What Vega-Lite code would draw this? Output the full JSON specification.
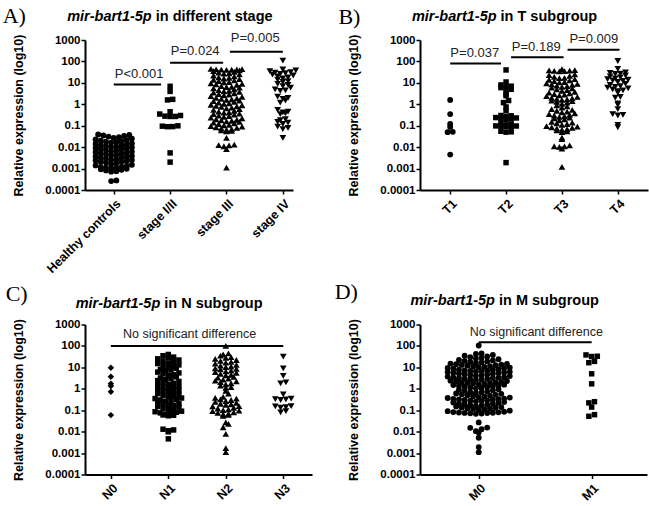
{
  "$schema": "https://vega.github.io/schema/vega-lite/v6.json",
  "autosize": {"type": "none"},
  "padding": {"left": 85, "top": 40, "right": 564, "bottom": 466},
  "background": "white",
  "columns": 2,
  "bounds": "flush",
  "spacing": {"row": 134.5, "column": 108},
  "config": {
    "view": {"stroke": null},
    "axis": {"grid": false, "domainColor": "black", "domainWidth": 2, "tickColor": "black", "tickWidth": 1.5, "tickSize": 4, "labelFont": "Liberation Sans", "labelFontWeight": "bold", "labelFontSize": 11.5, "labelColor": "black", "titleFont": "Liberation Sans", "titleFontWeight": "bold", "titleFontSize": 12.5, "titleColor": "black"},
    "axisX": {"labelFontSize": 12.5}
  },
  "datasets": {
    "stage": [
      {"group": "Healthy controls", "value": 0.039}, {"group": "Healthy controls", "value": 0.037}, {"group": "Healthy controls", "value": 0.035}, {"group": "Healthy controls", "value": 0.033}, {"group": "Healthy controls", "value": 0.031}, {"group": "Healthy controls", "value": 0.029}, {"group": "Healthy controls", "value": 0.027},
      {"group": "Healthy controls", "value": 0.025}, {"group": "Healthy controls", "value": 0.023}, {"group": "Healthy controls", "value": 0.021}, {"group": "Healthy controls", "value": 0.02}, {"group": "Healthy controls", "value": 0.019}, {"group": "Healthy controls", "value": 0.018}, {"group": "Healthy controls", "value": 0.017}, {"group": "Healthy controls", "value": 0.016},
      {"group": "Healthy controls", "value": 0.015}, {"group": "Healthy controls", "value": 0.014}, {"group": "Healthy controls", "value": 0.013}, {"group": "Healthy controls", "value": 0.0125}, {"group": "Healthy controls", "value": 0.012}, {"group": "Healthy controls", "value": 0.011}, {"group": "Healthy controls", "value": 0.0105}, {"group": "Healthy controls", "value": 0.0101},
      {"group": "Healthy controls", "value": 0.0098}, {"group": "Healthy controls", "value": 0.0092}, {"group": "Healthy controls", "value": 0.0088}, {"group": "Healthy controls", "value": 0.0082}, {"group": "Healthy controls", "value": 0.0078}, {"group": "Healthy controls", "value": 0.0073}, {"group": "Healthy controls", "value": 0.0068}, {"group": "Healthy controls", "value": 0.0064},
      {"group": "Healthy controls", "value": 0.0062}, {"group": "Healthy controls", "value": 0.0058}, {"group": "Healthy controls", "value": 0.0055}, {"group": "Healthy controls", "value": 0.0052}, {"group": "Healthy controls", "value": 0.0049}, {"group": "Healthy controls", "value": 0.0046}, {"group": "Healthy controls", "value": 0.0043}, {"group": "Healthy controls", "value": 0.0041},
      {"group": "Healthy controls", "value": 0.0039}, {"group": "Healthy controls", "value": 0.0037}, {"group": "Healthy controls", "value": 0.0035}, {"group": "Healthy controls", "value": 0.0033}, {"group": "Healthy controls", "value": 0.0031}, {"group": "Healthy controls", "value": 0.0029}, {"group": "Healthy controls", "value": 0.0027}, {"group": "Healthy controls", "value": 0.0026},
      {"group": "Healthy controls", "value": 0.0025}, {"group": "Healthy controls", "value": 0.0024}, {"group": "Healthy controls", "value": 0.0022}, {"group": "Healthy controls", "value": 0.0021}, {"group": "Healthy controls", "value": 0.002}, {"group": "Healthy controls", "value": 0.0019}, {"group": "Healthy controls", "value": 0.0018}, {"group": "Healthy controls", "value": 0.0016},
      {"group": "Healthy controls", "value": 0.0015}, {"group": "Healthy controls", "value": 0.0014}, {"group": "Healthy controls", "value": 0.0013}, {"group": "Healthy controls", "value": 0.0012}, {"group": "Healthy controls", "value": 0.00121}, {"group": "Healthy controls", "value": 0.0011}, {"group": "Healthy controls", "value": 0.00111}, {"group": "Healthy controls", "value": 0.00102},
      {"group": "Healthy controls", "value": 0.00098}, {"group": "Healthy controls", "value": 0.00092}, {"group": "Healthy controls", "value": 0.00088}, {"group": "Healthy controls", "value": 0.00082}, {"group": "Healthy controls", "value": 0.00076}, {"group": "Healthy controls", "value": 0.00072},
      {"group": "Healthy controls", "value": 0.00028}, {"group": "Healthy controls", "value": 0.00026},
      {"group": "stage I/II", "value": 6.9}, {"group": "stage I/II", "value": 4.0}, {"group": "stage I/II", "value": 1.7}, {"group": "stage I/II", "value": 1.6}, {"group": "stage I/II", "value": 0.45}, {"group": "stage I/II", "value": 0.35}, {"group": "stage I/II", "value": 0.3}, {"group": "stage I/II", "value": 0.28}, {"group": "stage I/II", "value": 0.27}, {"group": "stage I/II", "value": 0.271}, {"group": "stage I/II", "value": 0.099}, {"group": "stage I/II", "value": 0.095}, {"group": "stage I/II", "value": 0.09}, {"group": "stage I/II", "value": 0.091}, {"group": "stage I/II", "value": 0.0054}, {"group": "stage I/II", "value": 0.002},
      {"group": "stage III", "value": 45}, {"group": "stage III", "value": 43}, {"group": "stage III", "value": 41}, {"group": "stage III", "value": 41.5}, {"group": "stage III", "value": 42}, {"group": "stage III", "value": 44}, {"group": "stage III", "value": 40.5},
      {"group": "stage III", "value": 38}, {"group": "stage III", "value": 35}, {"group": "stage III", "value": 33}, {"group": "stage III", "value": 30}, {"group": "stage III", "value": 28}, {"group": "stage III", "value": 27},
      {"group": "stage III", "value": 25}, {"group": "stage III", "value": 22}, {"group": "stage III", "value": 20}, {"group": "stage III", "value": 18}, {"group": "stage III", "value": 17}, {"group": "stage III", "value": 16},
      {"group": "stage III", "value": 15}, {"group": "stage III", "value": 14}, {"group": "stage III", "value": 13}, {"group": "stage III", "value": 12}, {"group": "stage III", "value": 11}, {"group": "stage III", "value": 10.5},
      {"group": "stage III", "value": 9.5}, {"group": "stage III", "value": 9}, {"group": "stage III", "value": 8.5}, {"group": "stage III", "value": 8}, {"group": "stage III", "value": 7}, {"group": "stage III", "value": 6.5}, {"group": "stage III", "value": 6.4},
      {"group": "stage III", "value": 6}, {"group": "stage III", "value": 5.5}, {"group": "stage III", "value": 5}, {"group": "stage III", "value": 4.6}, {"group": "stage III", "value": 4.2}, {"group": "stage III", "value": 4.05},
      {"group": "stage III", "value": 3.8}, {"group": "stage III", "value": 3.5}, {"group": "stage III", "value": 3.2}, {"group": "stage III", "value": 3}, {"group": "stage III", "value": 2.8}, {"group": "stage III", "value": 2.6},
      {"group": "stage III", "value": 2.4}, {"group": "stage III", "value": 2.2}, {"group": "stage III", "value": 2}, {"group": "stage III", "value": 1.9}, {"group": "stage III", "value": 1.8}, {"group": "stage III", "value": 1.7}, {"group": "stage III", "value": 1.6},
      {"group": "stage III", "value": 1.5}, {"group": "stage III", "value": 1.4}, {"group": "stage III", "value": 1.3}, {"group": "stage III", "value": 1.2}, {"group": "stage III", "value": 1.1}, {"group": "stage III", "value": 1.05},
      {"group": "stage III", "value": 0.95}, {"group": "stage III", "value": 0.9}, {"group": "stage III", "value": 0.85}, {"group": "stage III", "value": 0.8}, {"group": "stage III", "value": 0.75}, {"group": "stage III", "value": 0.7}, {"group": "stage III", "value": 0.65},
      {"group": "stage III", "value": 0.6}, {"group": "stage III", "value": 0.55}, {"group": "stage III", "value": 0.5}, {"group": "stage III", "value": 0.45}, {"group": "stage III", "value": 0.42}, {"group": "stage III", "value": 0.41},
      {"group": "stage III", "value": 0.37}, {"group": "stage III", "value": 0.35}, {"group": "stage III", "value": 0.33}, {"group": "stage III", "value": 0.3}, {"group": "stage III", "value": 0.28}, {"group": "stage III", "value": 0.26},
      {"group": "stage III", "value": 0.24}, {"group": "stage III", "value": 0.22}, {"group": "stage III", "value": 0.2}, {"group": "stage III", "value": 0.19}, {"group": "stage III", "value": 0.18}, {"group": "stage III", "value": 0.17}, {"group": "stage III", "value": 0.16},
      {"group": "stage III", "value": 0.15}, {"group": "stage III", "value": 0.14}, {"group": "stage III", "value": 0.13}, {"group": "stage III", "value": 0.12}, {"group": "stage III", "value": 0.11}, {"group": "stage III", "value": 0.105},
      {"group": "stage III", "value": 0.095}, {"group": "stage III", "value": 0.09}, {"group": "stage III", "value": 0.085}, {"group": "stage III", "value": 0.08}, {"group": "stage III", "value": 0.075}, {"group": "stage III", "value": 0.07}, {"group": "stage III", "value": 0.065},
      {"group": "stage III", "value": 0.06}, {"group": "stage III", "value": 0.058}, {"group": "stage III", "value": 0.055},
      {"group": "stage III", "value": 0.027}, {"group": "stage III", "value": 0.013}, {"group": "stage III", "value": 0.012}, {"group": "stage III", "value": 0.011}, {"group": "stage III", "value": 0.0125}, {"group": "stage III", "value": 0.008}, {"group": "stage III", "value": 0.0011},
      {"group": "stage IV", "value": 110}, {"group": "stage IV", "value": 42}, {"group": "stage IV", "value": 38}, {"group": "stage IV", "value": 35}, {"group": "stage IV", "value": 32}, {"group": "stage IV", "value": 30}, {"group": "stage IV", "value": 28}, {"group": "stage IV", "value": 26}, {"group": "stage IV", "value": 24}, {"group": "stage IV", "value": 22}, {"group": "stage IV", "value": 20}, {"group": "stage IV", "value": 18}, {"group": "stage IV", "value": 16}, {"group": "stage IV", "value": 14}, {"group": "stage IV", "value": 12}, {"group": "stage IV", "value": 11}, {"group": "stage IV", "value": 9}, {"group": "stage IV", "value": 8}, {"group": "stage IV", "value": 7}, {"group": "stage IV", "value": 6}, {"group": "stage IV", "value": 5}, {"group": "stage IV", "value": 4.5}, {"group": "stage IV", "value": 4.2}, {"group": "stage IV", "value": 2.3}, {"group": "stage IV", "value": 2}, {"group": "stage IV", "value": 1.8}, {"group": "stage IV", "value": 1.5}, {"group": "stage IV", "value": 1.2}, {"group": "stage IV", "value": 0.55}, {"group": "stage IV", "value": 0.45}, {"group": "stage IV", "value": 0.42}, {"group": "stage IV", "value": 0.38}, {"group": "stage IV", "value": 0.35}, {"group": "stage IV", "value": 0.2}, {"group": "stage IV", "value": 0.18}, {"group": "stage IV", "value": 0.15}, {"group": "stage IV", "value": 0.14}, {"group": "stage IV", "value": 0.12}, {"group": "stage IV", "value": 0.09}, {"group": "stage IV", "value": 0.08}, {"group": "stage IV", "value": 0.07}, {"group": "stage IV", "value": 0.027}
    ],
    "tstage": [
      {"group": "T1", "value": 1.6}, {"group": "T1", "value": 0.35}, {"group": "T1", "value": 0.12}, {"group": "T1", "value": 0.088}, {"group": "T1", "value": 0.052}, {"group": "T1", "value": 0.05}, {"group": "T1", "value": 0.0045},
      {"group": "T2", "value": 40}, {"group": "T2", "value": 11}, {"group": "T2", "value": 8}, {"group": "T2", "value": 7}, {"group": "T2", "value": 6.5}, {"group": "T2", "value": 6}, {"group": "T2", "value": 5}, {"group": "T2", "value": 4.5}, {"group": "T2", "value": 3}, {"group": "T2", "value": 2.5}, {"group": "T2", "value": 1.5}, {"group": "T2", "value": 1.2}, {"group": "T2", "value": 0.75}, {"group": "T2", "value": 0.5}, {"group": "T2", "value": 0.3}, {"group": "T2", "value": 0.29}, {"group": "T2", "value": 0.27}, {"group": "T2", "value": 0.24}, {"group": "T2", "value": 0.23}, {"group": "T2", "value": 0.22}, {"group": "T2", "value": 0.21}, {"group": "T2", "value": 0.2}, {"group": "T2", "value": 0.13}, {"group": "T2", "value": 0.12}, {"group": "T2", "value": 0.11}, {"group": "T2", "value": 0.098}, {"group": "T2", "value": 0.097}, {"group": "T2", "value": 0.095}, {"group": "T2", "value": 0.092}, {"group": "T2", "value": 0.09}, {"group": "T2", "value": 0.055}, {"group": "T2", "value": 0.052}, {"group": "T2", "value": 0.05}, {"group": "T2", "value": 0.0019},
      {"group": "T3", "value": 44}, {"group": "T3", "value": 39}, {"group": "T3", "value": 38}, {"group": "T3", "value": 37}, {"group": "T3", "value": 36}, {"group": "T3", "value": 35}, {"group": "T3", "value": 34}, {"group": "T3", "value": 25}, {"group": "T3", "value": 23}, {"group": "T3", "value": 21}, {"group": "T3", "value": 19}, {"group": "T3", "value": 17}, {"group": "T3", "value": 16.5}, {"group": "T3", "value": 15}, {"group": "T3", "value": 14}, {"group": "T3", "value": 13}, {"group": "T3", "value": 12}, {"group": "T3", "value": 11}, {"group": "T3", "value": 10.5}, {"group": "T3", "value": 9.5}, {"group": "T3", "value": 9}, {"group": "T3", "value": 8.5}, {"group": "T3", "value": 8}, {"group": "T3", "value": 7.5}, {"group": "T3", "value": 7}, {"group": "T3", "value": 6.5}, {"group": "T3", "value": 6}, {"group": "T3", "value": 5.5}, {"group": "T3", "value": 5}, {"group": "T3", "value": 4.6}, {"group": "T3", "value": 4.2}, {"group": "T3", "value": 3.8}, {"group": "T3", "value": 3.5}, {"group": "T3", "value": 3.2}, {"group": "T3", "value": 3}, {"group": "T3", "value": 2.8}, {"group": "T3", "value": 2.6}, {"group": "T3", "value": 2.4}, {"group": "T3", "value": 2.2}, {"group": "T3", "value": 2}, {"group": "T3", "value": 1.9}, {"group": "T3", "value": 1.8}, {"group": "T3", "value": 1.7}, {"group": "T3", "value": 1.6}, {"group": "T3", "value": 1.5}, {"group": "T3", "value": 1.4}, {"group": "T3", "value": 1.3}, {"group": "T3", "value": 1.2}, {"group": "T3", "value": 1.05}, {"group": "T3", "value": 0.9}, {"group": "T3", "value": 0.8}, {"group": "T3", "value": 0.7}, {"group": "T3", "value": 0.6}, {"group": "T3", "value": 0.55}, {"group": "T3", "value": 0.5}, {"group": "T3", "value": 0.45}, {"group": "T3", "value": 0.42}, {"group": "T3", "value": 0.38}, {"group": "T3", "value": 0.35}, {"group": "T3", "value": 0.32}, {"group": "T3", "value": 0.3}, {"group": "T3", "value": 0.28}, {"group": "T3", "value": 0.26}, {"group": "T3", "value": 0.24}, {"group": "T3", "value": 0.22}, {"group": "T3", "value": 0.2}, {"group": "T3", "value": 0.18}, {"group": "T3", "value": 0.15}, {"group": "T3", "value": 0.14}, {"group": "T3", "value": 0.13}, {"group": "T3", "value": 0.12}, {"group": "T3", "value": 0.11}, {"group": "T3", "value": 0.095}, {"group": "T3", "value": 0.09}, {"group": "T3", "value": 0.085}, {"group": "T3", "value": 0.08}, {"group": "T3", "value": 0.075}, {"group": "T3", "value": 0.07}, {"group": "T3", "value": 0.065}, {"group": "T3", "value": 0.06}, {"group": "T3", "value": 0.055}, {"group": "T3", "value": 0.05}, {"group": "T3", "value": 0.028}, {"group": "T3", "value": 0.024}, {"group": "T3", "value": 0.012}, {"group": "T3", "value": 0.011}, {"group": "T3", "value": 0.0108}, {"group": "T3", "value": 0.0102}, {"group": "T3", "value": 0.0085}, {"group": "T3", "value": 0.0012},
      {"group": "T4", "value": 105}, {"group": "T4", "value": 45}, {"group": "T4", "value": 31}, {"group": "T4", "value": 29}, {"group": "T4", "value": 27}, {"group": "T4", "value": 26}, {"group": "T4", "value": 22}, {"group": "T4", "value": 20}, {"group": "T4", "value": 18}, {"group": "T4", "value": 16}, {"group": "T4", "value": 15}, {"group": "T4", "value": 14}, {"group": "T4", "value": 13}, {"group": "T4", "value": 12.5}, {"group": "T4", "value": 11}, {"group": "T4", "value": 9}, {"group": "T4", "value": 8}, {"group": "T4", "value": 7}, {"group": "T4", "value": 6.5}, {"group": "T4", "value": 6}, {"group": "T4", "value": 5.5}, {"group": "T4", "value": 5}, {"group": "T4", "value": 4.5}, {"group": "T4", "value": 4.1}, {"group": "T4", "value": 3.5}, {"group": "T4", "value": 2.2}, {"group": "T4", "value": 2.05}, {"group": "T4", "value": 1.1}, {"group": "T4", "value": 0.95}, {"group": "T4", "value": 0.6}, {"group": "T4", "value": 0.35}, {"group": "T4", "value": 0.32}, {"group": "T4", "value": 0.3}, {"group": "T4", "value": 0.11}, {"group": "T4", "value": 0.085}
    ],
    "nstage": [
      {"group": "N0", "value": 9.6}, {"group": "N0", "value": 3.6}, {"group": "N0", "value": 1.7}, {"group": "N0", "value": 1.35}, {"group": "N0", "value": 0.72}, {"group": "N0", "value": 0.059},
      {"group": "N1", "value": 40}, {"group": "N1", "value": 35}, {"group": "N1", "value": 30}, {"group": "N1", "value": 28}, {"group": "N1", "value": 25}, {"group": "N1", "value": 22}, {"group": "N1", "value": 20}, {"group": "N1", "value": 18}, {"group": "N1", "value": 16}, {"group": "N1", "value": 15}, {"group": "N1", "value": 13}, {"group": "N1", "value": 12}, {"group": "N1", "value": 11}, {"group": "N1", "value": 10.2}, {"group": "N1", "value": 9}, {"group": "N1", "value": 8}, {"group": "N1", "value": 7.5}, {"group": "N1", "value": 7}, {"group": "N1", "value": 6}, {"group": "N1", "value": 5.5}, {"group": "N1", "value": 5}, {"group": "N1", "value": 4.5}, {"group": "N1", "value": 4.1}, {"group": "N1", "value": 3.6}, {"group": "N1", "value": 3.2}, {"group": "N1", "value": 3}, {"group": "N1", "value": 2.7}, {"group": "N1", "value": 2.4}, {"group": "N1", "value": 2.2}, {"group": "N1", "value": 2}, {"group": "N1", "value": 1.8}, {"group": "N1", "value": 1.6}, {"group": "N1", "value": 1.5}, {"group": "N1", "value": 1.3}, {"group": "N1", "value": 1.2}, {"group": "N1", "value": 1.1}, {"group": "N1", "value": 1.02}, {"group": "N1", "value": 0.9}, {"group": "N1", "value": 0.85}, {"group": "N1", "value": 0.8}, {"group": "N1", "value": 0.7}, {"group": "N1", "value": 0.65}, {"group": "N1", "value": 0.6}, {"group": "N1", "value": 0.55}, {"group": "N1", "value": 0.5}, {"group": "N1", "value": 0.45}, {"group": "N1", "value": 0.41}, {"group": "N1", "value": 0.37}, {"group": "N1", "value": 0.35}, {"group": "N1", "value": 0.32}, {"group": "N1", "value": 0.3}, {"group": "N1", "value": 0.28}, {"group": "N1", "value": 0.26}, {"group": "N1", "value": 0.23}, {"group": "N1", "value": 0.2}, {"group": "N1", "value": 0.19}, {"group": "N1", "value": 0.17}, {"group": "N1", "value": 0.165}, {"group": "N1", "value": 0.15}, {"group": "N1", "value": 0.14}, {"group": "N1", "value": 0.12}, {"group": "N1", "value": 0.11}, {"group": "N1", "value": 0.102}, {"group": "N1", "value": 0.09}, {"group": "N1", "value": 0.085}, {"group": "N1", "value": 0.08}, {"group": "N1", "value": 0.075}, {"group": "N1", "value": 0.07}, {"group": "N1", "value": 0.065}, {"group": "N1", "value": 0.06}, {"group": "N1", "value": 0.058}, {"group": "N1", "value": 0.055}, {"group": "N1", "value": 0.013}, {"group": "N1", "value": 0.012}, {"group": "N1", "value": 0.011}, {"group": "N1", "value": 0.0098}, {"group": "N1", "value": 0.0046},
      {"group": "N2", "value": 100}, {"group": "N2", "value": 45}, {"group": "N2", "value": 40}, {"group": "N2", "value": 35}, {"group": "N2", "value": 30}, {"group": "N2", "value": 28}, {"group": "N2", "value": 25}, {"group": "N2", "value": 22}, {"group": "N2", "value": 20}, {"group": "N2", "value": 18}, {"group": "N2", "value": 16.5}, {"group": "N2", "value": 15}, {"group": "N2", "value": 13}, {"group": "N2", "value": 12}, {"group": "N2", "value": 11}, {"group": "N2", "value": 10.3}, {"group": "N2", "value": 9}, {"group": "N2", "value": 8.5}, {"group": "N2", "value": 8}, {"group": "N2", "value": 7}, {"group": "N2", "value": 6.5}, {"group": "N2", "value": 6}, {"group": "N2", "value": 5.5}, {"group": "N2", "value": 5}, {"group": "N2", "value": 4.5}, {"group": "N2", "value": 4.2}, {"group": "N2", "value": 3.6}, {"group": "N2", "value": 3.3}, {"group": "N2", "value": 3}, {"group": "N2", "value": 2.7}, {"group": "N2", "value": 2.4}, {"group": "N2", "value": 2.2}, {"group": "N2", "value": 2.05}, {"group": "N2", "value": 1.8}, {"group": "N2", "value": 1.6}, {"group": "N2", "value": 1.4}, {"group": "N2", "value": 1.2}, {"group": "N2", "value": 1.1}, {"group": "N2", "value": 0.8}, {"group": "N2", "value": 0.6}, {"group": "N2", "value": 0.42}, {"group": "N2", "value": 0.38}, {"group": "N2", "value": 0.35}, {"group": "N2", "value": 0.32}, {"group": "N2", "value": 0.3}, {"group": "N2", "value": 0.27}, {"group": "N2", "value": 0.245}, {"group": "N2", "value": 0.22}, {"group": "N2", "value": 0.2}, {"group": "N2", "value": 0.19}, {"group": "N2", "value": 0.18}, {"group": "N2", "value": 0.155}, {"group": "N2", "value": 0.15}, {"group": "N2", "value": 0.13}, {"group": "N2", "value": 0.12}, {"group": "N2", "value": 0.11}, {"group": "N2", "value": 0.102}, {"group": "N2", "value": 0.095}, {"group": "N2", "value": 0.09}, {"group": "N2", "value": 0.08}, {"group": "N2", "value": 0.075}, {"group": "N2", "value": 0.07}, {"group": "N2", "value": 0.065}, {"group": "N2", "value": 0.06}, {"group": "N2", "value": 0.055}, {"group": "N2", "value": 0.027}, {"group": "N2", "value": 0.023}, {"group": "N2", "value": 0.016}, {"group": "N2", "value": 0.0078}, {"group": "N2", "value": 0.0017}, {"group": "N2", "value": 0.0011},
      {"group": "N3", "value": 32}, {"group": "N3", "value": 9}, {"group": "N3", "value": 4}, {"group": "N3", "value": 2}, {"group": "N3", "value": 1.8}, {"group": "N3", "value": 0.55}, {"group": "N3", "value": 0.35}, {"group": "N3", "value": 0.33}, {"group": "N3", "value": 0.32}, {"group": "N3", "value": 0.3}, {"group": "N3", "value": 0.155}, {"group": "N3", "value": 0.15}, {"group": "N3", "value": 0.14}, {"group": "N3", "value": 0.13}, {"group": "N3", "value": 0.09}, {"group": "N3", "value": 0.08}
    ],
    "mstage": [
      {"group": "M0", "value": 105}, {"group": "M0", "value": 45}, {"group": "M0", "value": 42},
      {"group": "M0", "value": 38}, {"group": "M0", "value": 35}, {"group": "M0", "value": 32}, {"group": "M0", "value": 30}, {"group": "M0", "value": 28}, {"group": "M0", "value": 26},
      {"group": "M0", "value": 24}, {"group": "M0", "value": 22}, {"group": "M0", "value": 21}, {"group": "M0", "value": 20}, {"group": "M0", "value": 19}, {"group": "M0", "value": 18}, {"group": "M0", "value": 17}, {"group": "M0", "value": 16},
      {"group": "M0", "value": 15}, {"group": "M0", "value": 14.5}, {"group": "M0", "value": 14}, {"group": "M0", "value": 13.5}, {"group": "M0", "value": 13}, {"group": "M0", "value": 12.5}, {"group": "M0", "value": 12}, {"group": "M0", "value": 11.5}, {"group": "M0", "value": 11}, {"group": "M0", "value": 10.5}, {"group": "M0", "value": 10.2},
      {"group": "M0", "value": 9.8}, {"group": "M0", "value": 9.4}, {"group": "M0", "value": 9}, {"group": "M0", "value": 8.6}, {"group": "M0", "value": 8.2}, {"group": "M0", "value": 7.8}, {"group": "M0", "value": 7.5}, {"group": "M0", "value": 7.2}, {"group": "M0", "value": 7}, {"group": "M0", "value": 6.8}, {"group": "M0", "value": 6.6}, {"group": "M0", "value": 6.4},
      {"group": "M0", "value": 6.2}, {"group": "M0", "value": 6}, {"group": "M0", "value": 5.8}, {"group": "M0", "value": 5.6}, {"group": "M0", "value": 5.4}, {"group": "M0", "value": 5.2}, {"group": "M0", "value": 5}, {"group": "M0", "value": 4.8}, {"group": "M0", "value": 4.6}, {"group": "M0", "value": 4.4}, {"group": "M0", "value": 4.2}, {"group": "M0", "value": 4.1},
      {"group": "M0", "value": 3.9}, {"group": "M0", "value": 3.7}, {"group": "M0", "value": 3.5}, {"group": "M0", "value": 3.4}, {"group": "M0", "value": 3.3}, {"group": "M0", "value": 3.2}, {"group": "M0", "value": 3.1}, {"group": "M0", "value": 3}, {"group": "M0", "value": 2.9}, {"group": "M0", "value": 2.8}, {"group": "M0", "value": 2.7}, {"group": "M0", "value": 2.6},
      {"group": "M0", "value": 2.4}, {"group": "M0", "value": 2.3}, {"group": "M0", "value": 2.2}, {"group": "M0", "value": 2.1}, {"group": "M0", "value": 2}, {"group": "M0", "value": 1.95}, {"group": "M0", "value": 1.9}, {"group": "M0", "value": 1.85}, {"group": "M0", "value": 1.8}, {"group": "M0", "value": 1.7}, {"group": "M0", "value": 1.62},
      {"group": "M0", "value": 1.55}, {"group": "M0", "value": 1.5}, {"group": "M0", "value": 1.45}, {"group": "M0", "value": 1.4}, {"group": "M0", "value": 1.3}, {"group": "M0", "value": 1.25}, {"group": "M0", "value": 1.2}, {"group": "M0", "value": 1.15}, {"group": "M0", "value": 1.1}, {"group": "M0", "value": 1.05},
      {"group": "M0", "value": 0.95}, {"group": "M0", "value": 0.9}, {"group": "M0", "value": 0.85}, {"group": "M0", "value": 0.8}, {"group": "M0", "value": 0.75}, {"group": "M0", "value": 0.7}, {"group": "M0", "value": 0.68}, {"group": "M0", "value": 0.65},
      {"group": "M0", "value": 0.6}, {"group": "M0", "value": 0.58}, {"group": "M0", "value": 0.55}, {"group": "M0", "value": 0.52}, {"group": "M0", "value": 0.5}, {"group": "M0", "value": 0.48}, {"group": "M0", "value": 0.45}, {"group": "M0", "value": 0.43}, {"group": "M0", "value": 0.41},
      {"group": "M0", "value": 0.39}, {"group": "M0", "value": 0.37}, {"group": "M0", "value": 0.35}, {"group": "M0", "value": 0.34}, {"group": "M0", "value": 0.33}, {"group": "M0", "value": 0.32}, {"group": "M0", "value": 0.31}, {"group": "M0", "value": 0.3}, {"group": "M0", "value": 0.29}, {"group": "M0", "value": 0.28}, {"group": "M0", "value": 0.27}, {"group": "M0", "value": 0.26},
      {"group": "M0", "value": 0.24}, {"group": "M0", "value": 0.23}, {"group": "M0", "value": 0.22}, {"group": "M0", "value": 0.21}, {"group": "M0", "value": 0.2}, {"group": "M0", "value": 0.19}, {"group": "M0", "value": 0.18}, {"group": "M0", "value": 0.17}, {"group": "M0", "value": 0.165}, {"group": "M0", "value": 0.16},
      {"group": "M0", "value": 0.15}, {"group": "M0", "value": 0.14}, {"group": "M0", "value": 0.135}, {"group": "M0", "value": 0.13}, {"group": "M0", "value": 0.125}, {"group": "M0", "value": 0.12}, {"group": "M0", "value": 0.115}, {"group": "M0", "value": 0.11}, {"group": "M0", "value": 0.105},
      {"group": "M0", "value": 0.095}, {"group": "M0", "value": 0.09}, {"group": "M0", "value": 0.085}, {"group": "M0", "value": 0.082}, {"group": "M0", "value": 0.08}, {"group": "M0", "value": 0.078}, {"group": "M0", "value": 0.076}, {"group": "M0", "value": 0.075}, {"group": "M0", "value": 0.074}, {"group": "M0", "value": 0.072}, {"group": "M0", "value": 0.07}, {"group": "M0", "value": 0.068},
      {"group": "M0", "value": 0.027}, {"group": "M0", "value": 0.0155}, {"group": "M0", "value": 0.015}, {"group": "M0", "value": 0.013}, {"group": "M0", "value": 0.0105}, {"group": "M0", "value": 0.009}, {"group": "M0", "value": 0.0052}, {"group": "M0", "value": 0.0019}, {"group": "M0", "value": 0.0011},
      {"group": "M1", "value": 38}, {"group": "M1", "value": 33}, {"group": "M1", "value": 32}, {"group": "M1", "value": 19}, {"group": "M1", "value": 16.5}, {"group": "M1", "value": 5}, {"group": "M1", "value": 1.7}, {"group": "M1", "value": 0.25}, {"group": "M1", "value": 0.22}, {"group": "M1", "value": 0.14}, {"group": "M1", "value": 0.062}, {"group": "M1", "value": 0.052}
    ]
  },
  "concat": [
    {
      "width": 208, "height": 150,
      "layer": [
        {
          "data": {"name": "stage"},
          "transform": [
            {"calculate": "log(datum.value) / LN10", "as": "lv"},
            {"calculate": "floor(datum.lv / 0.2)", "as": "row"},
            {"calculate": "indexof(['Healthy controls','stage I/II','stage III','stage IV'], datum.group)", "as": "gi"},
            {"window": [{"op": "row_number", "as": "rn"}], "groupby": ["gi", "row"], "sort": [{"field": "value", "order": "ascending"}]},
            {"joinaggregate": [{"op": "count", "as": "n"}], "groupby": ["gi", "row"]},
            {"calculate": "datum.gi + ((datum.rn % 2 == 0) ? 1 : -1) * ((datum.n % 2 == 1) ? floor(datum.rn / 2) : floor((datum.rn - 1) / 2) + 0.5) * 0.092", "as": "xpos"},
            {"calculate": "['circle','square','triangle-up','triangle-down'][datum.gi]", "as": "sh"},
            {"calculate": "[34,30,45,45][datum.gi]", "as": "sz"}
          ],
          "mark": {"type": "point", "filled": true, "opacity": 1, "color": "black"},
          "encoding": {
            "x": {"field": "xpos", "type": "quantitative", "title": null, "scale": {"domain": [-0.51, 3.18], "nice": false, "zero": false}, "axis": {"values": [0, 1, 2, 3], "labelExpr": "['Healthy controls','stage I/II','stage III','stage IV'][datum.value]", "labelAngle": -45, "labelPadding": 3, "labelOverlap": false}},
            "y": {"field": "value", "type": "quantitative", "title": "Relative expression (log10)", "scale": {"type": "log", "domain": [0.0001, 1000], "nice": false}, "axis": {"values": [0.0001, 0.001, 0.01, 0.1, 1, 10, 100, 1000], "format": "~g", "titlePadding": 19, "labelPadding": 1, "labelOverlap": false}},
            "shape": {"field": "sh", "type": "nominal", "scale": null},
            "size": {"field": "sz", "type": "quantitative", "scale": null}
          }
        },
        {
          "data": {"values": [
            {"label": "P<0.001", "x1": 0, "x2": 0.84, "xm": 0.45, "y": 8.3, "ty": 16.4},
            {"label": "P=0.024", "x1": 1, "x2": 1.94, "xm": 1.445, "y": 86, "ty": 210},
            {"label": "P=0.005", "x1": 2.06, "x2": 3.0, "xm": 2.51, "y": 280, "ty": 790}
          ]},
          "layer": [
            {"mark": {"type": "rule", "color": "black", "strokeWidth": 2}, "encoding": {"x": {"field": "x1", "type": "quantitative", "title": null}, "x2": {"field": "x2"}, "y": {"field": "y", "type": "quantitative", "title": "Relative expression (log10)"}}},
            {"mark": {"type": "text", "font": "Liberation Sans", "fontSize": 13, "color": "#222", "baseline": "alphabetic", "align": "center"}, "encoding": {"x": {"field": "xm", "type": "quantitative", "title": null}, "y": {"field": "ty", "type": "quantitative", "title": "Relative expression (log10)"}, "text": {"field": "label"}}}
          ]
        },
        {
          "data": {"values": [{}]},
          "layer": [
            {"mark": {"type": "text", "font": "Liberation Sans", "fontSize": 14.5, "fontWeight": "bold", "fontStyle": "italic", "align": "right", "baseline": "alphabetic", "color": "black"}, "encoding": {"x": {"datum": 0.674}, "y": {"datum": 8000}, "text": {"value": "mir-bart1-5p"}}},
            {"mark": {"type": "text", "font": "Liberation Sans", "fontSize": 14.5, "fontWeight": "bold", "align": "left", "baseline": "alphabetic", "dx": 4, "color": "black"}, "encoding": {"x": {"datum": 0.674}, "y": {"datum": 8000}, "text": {"value": "in different stage"}}},
            {"mark": {"type": "text", "font": "Liberation Serif", "fontSize": 22, "align": "left", "baseline": "alphabetic", "color": "black"}, "encoding": {"x": {"datum": -1.97}, "y": {"datum": 6000}, "text": {"value": "A)"}}}
          ]
        }
      ]
    },
    {
      "width": 228, "height": 150,
      "layer": [
        {
          "data": {"name": "tstage"},
          "transform": [
            {"calculate": "log(datum.value) / LN10", "as": "lv"},
            {"calculate": "floor(datum.lv / 0.2)", "as": "row"},
            {"calculate": "indexof(['T1','T2','T3','T4'], datum.group)", "as": "gi"},
            {"window": [{"op": "row_number", "as": "rn"}], "groupby": ["gi", "row"], "sort": [{"field": "value", "order": "ascending"}]},
            {"joinaggregate": [{"op": "count", "as": "n"}], "groupby": ["gi", "row"]},
            {"calculate": "datum.gi + ((datum.rn % 2 == 0) ? 1 : -1) * ((datum.n % 2 == 1) ? floor(datum.rn / 2) : floor((datum.rn - 1) / 2) + 0.5) * 0.092", "as": "xpos"},
            {"calculate": "['circle','square','triangle-up','triangle-down'][datum.gi]", "as": "sh"},
            {"calculate": "[34,30,45,45][datum.gi]", "as": "sz"}
          ],
          "mark": {"type": "point", "filled": true, "opacity": 1, "color": "black"},
          "encoding": {
            "x": {"field": "xpos", "type": "quantitative", "title": null, "scale": {"domain": [-0.54, 3.54], "nice": false, "zero": false}, "axis": {"values": [0, 1, 2, 3], "labelExpr": "['T1','T2','T3','T4'][datum.value]", "labelAngle": -45, "labelPadding": 3, "labelOverlap": false}},
            "y": {"field": "value", "type": "quantitative", "title": "Relative expression (log10)", "scale": {"type": "log", "domain": [0.0001, 1000], "nice": false}, "axis": {"values": [0.0001, 0.001, 0.01, 0.1, 1, 10, 100, 1000], "format": "~g", "titlePadding": 19, "labelPadding": 1, "labelOverlap": false}},
            "shape": {"field": "sh", "type": "nominal", "scale": null},
            "size": {"field": "sz", "type": "quantitative", "scale": null}
          }
        },
        {
          "data": {"values": [
            {"label": "P=0.037", "x1": 0, "x2": 0.91, "xm": 0.44, "y": 81, "ty": 154},
            {"label": "P=0.189", "x1": 1.09, "x2": 2.03, "xm": 1.54, "y": 155, "ty": 293},
            {"label": "P=0.009", "x1": 2.1, "x2": 3.03, "xm": 2.57, "y": 350, "ty": 690}
          ]},
          "layer": [
            {"mark": {"type": "rule", "color": "black", "strokeWidth": 2}, "encoding": {"x": {"field": "x1", "type": "quantitative", "title": null}, "x2": {"field": "x2"}, "y": {"field": "y", "type": "quantitative", "title": "Relative expression (log10)"}}},
            {"mark": {"type": "text", "font": "Liberation Sans", "fontSize": 13, "color": "#222", "baseline": "alphabetic", "align": "center"}, "encoding": {"x": {"field": "xm", "type": "quantitative", "title": null}, "y": {"field": "ty", "type": "quantitative", "title": "Relative expression (log10)"}, "text": {"field": "label"}}}
          ]
        },
        {
          "data": {"values": [{}]},
          "layer": [
            {"mark": {"type": "text", "font": "Liberation Sans", "fontSize": 14.5, "fontWeight": "bold", "fontStyle": "italic", "align": "right", "baseline": "alphabetic", "color": "black"}, "encoding": {"x": {"datum": 0.83}, "y": {"datum": 7700}, "text": {"value": "mir-bart1-5p"}}},
            {"mark": {"type": "text", "font": "Liberation Sans", "fontSize": 14.5, "fontWeight": "bold", "align": "left", "baseline": "alphabetic", "dx": 4, "color": "black"}, "encoding": {"x": {"datum": 0.83}, "y": {"datum": 7700}, "text": {"value": "in T subgroup"}}},
            {"mark": {"type": "text", "font": "Liberation Serif", "fontSize": 22, "align": "left", "baseline": "alphabetic", "color": "black"}, "encoding": {"x": {"datum": -2.0}, "y": {"datum": 5400}, "text": {"value": "B)"}}}
          ]
        }
      ]
    },
    {
      "width": 227, "height": 150,
      "layer": [
        {
          "data": {"name": "nstage"},
          "transform": [
            {"calculate": "log(datum.value) / LN10", "as": "lv"},
            {"calculate": "floor(datum.lv / 0.2)", "as": "row"},
            {"calculate": "indexof(['N0','N1','N2','N3'], datum.group)", "as": "gi"},
            {"window": [{"op": "row_number", "as": "rn"}], "groupby": ["gi", "row"], "sort": [{"field": "value", "order": "ascending"}]},
            {"joinaggregate": [{"op": "count", "as": "n"}], "groupby": ["gi", "row"]},
            {"calculate": "datum.gi + ((datum.rn % 2 == 0) ? 1 : -1) * ((datum.n % 2 == 1) ? floor(datum.rn / 2) : floor((datum.rn - 1) / 2) + 0.5) * 0.092", "as": "xpos"},
            {"calculate": "['diamond','square','triangle-up','triangle-down'][datum.gi]", "as": "sh"},
            {"calculate": "[42,30,45,45][datum.gi]", "as": "sz"}
          ],
          "mark": {"type": "point", "filled": true, "opacity": 1, "color": "black"},
          "encoding": {
            "x": {"field": "xpos", "type": "quantitative", "title": null, "scale": {"domain": [-0.45, 3.5], "nice": false, "zero": false}, "axis": {"values": [0, 1, 2, 3], "labelExpr": "['N0','N1','N2','N3'][datum.value]", "labelAngle": -45, "labelPadding": 3, "labelOverlap": false}},
            "y": {"field": "value", "type": "quantitative", "title": "Relative expression (log10)", "scale": {"type": "log", "domain": [0.0001, 1000], "nice": false}, "axis": {"values": [0.0001, 0.001, 0.01, 0.1, 1, 10, 100, 1000], "format": "~g", "titlePadding": 19, "labelPadding": 1, "labelOverlap": false}},
            "shape": {"field": "sh", "type": "nominal", "scale": null},
            "size": {"field": "sz", "type": "quantitative", "scale": null}
          }
        },
        {
          "data": {"values": [
            {"label": "No significant difference", "x1": 0, "x2": 3, "xm": 1.37, "y": 100, "ty": 240}
          ]},
          "layer": [
            {"mark": {"type": "rule", "color": "black", "strokeWidth": 2}, "encoding": {"x": {"field": "x1", "type": "quantitative", "title": null}, "x2": {"field": "x2"}, "y": {"field": "y", "type": "quantitative", "title": "Relative expression (log10)"}}},
            {"mark": {"type": "text", "font": "Liberation Sans", "fontSize": 12.5, "color": "#222", "baseline": "alphabetic", "align": "center"}, "encoding": {"x": {"field": "xm", "type": "quantitative", "title": null}, "y": {"field": "ty", "type": "quantitative", "title": "Relative expression (log10)"}, "text": {"field": "label"}}}
          ]
        },
        {
          "data": {"values": [{}]},
          "layer": [
            {"mark": {"type": "text", "font": "Liberation Sans", "fontSize": 14.5, "fontWeight": "bold", "fontStyle": "italic", "align": "right", "baseline": "alphabetic", "color": "black"}, "encoding": {"x": {"datum": 0.86}, "y": {"datum": 5900}, "text": {"value": "mir-bart1-5p"}}},
            {"mark": {"type": "text", "font": "Liberation Sans", "fontSize": 14.5, "fontWeight": "bold", "align": "left", "baseline": "alphabetic", "dx": 4, "color": "black"}, "encoding": {"x": {"datum": 0.86}, "y": {"datum": 5900}, "text": {"value": "in N subgroup"}}},
            {"mark": {"type": "text", "font": "Liberation Serif", "fontSize": 22, "align": "left", "baseline": "alphabetic", "color": "black"}, "encoding": {"x": {"datum": -1.83}, "y": {"datum": 12500}, "text": {"value": "C)"}}}
          ]
        }
      ]
    },
    {
      "width": 227, "height": 150,
      "layer": [
        {
          "data": {"name": "mstage"},
          "transform": [
            {"calculate": "log(datum.value) / LN10", "as": "lv"},
            {"calculate": "floor(datum.lv / 0.2)", "as": "row"},
            {"calculate": "indexof(['M0','M1'], datum.group)", "as": "gi"},
            {"window": [{"op": "row_number", "as": "rn"}], "groupby": ["gi", "row"], "sort": [{"field": "value", "order": "ascending"}]},
            {"joinaggregate": [{"op": "count", "as": "n"}], "groupby": ["gi", "row"]},
            {"calculate": "datum.gi + ((datum.rn % 2 == 0) ? 1 : -1) * ((datum.n % 2 == 1) ? floor(datum.rn / 2) : floor((datum.rn - 1) / 2) + 0.5) * 0.05", "as": "xpos"},
            {"calculate": "['circle','square'][datum.gi]", "as": "sh"},
            {"calculate": "[34,30][datum.gi]", "as": "sz"}
          ],
          "mark": {"type": "point", "filled": true, "opacity": 1, "color": "black"},
          "encoding": {
            "x": {"field": "xpos", "type": "quantitative", "title": null, "scale": {"domain": [-0.52, 1.49], "nice": false, "zero": false}, "axis": {"values": [0, 1], "labelExpr": "['M0','M1'][datum.value]", "labelAngle": -45, "labelPadding": 3, "labelOverlap": false}},
            "y": {"field": "value", "type": "quantitative", "title": "Relative expression (log10)", "scale": {"type": "log", "domain": [0.0001, 1000], "nice": false}, "axis": {"values": [0.0001, 0.001, 0.01, 0.1, 1, 10, 100, 1000], "format": "~g", "titlePadding": 19, "labelPadding": 1, "labelOverlap": false}},
            "shape": {"field": "sh", "type": "nominal", "scale": null},
            "size": {"field": "sz", "type": "quantitative", "scale": null}
          }
        },
        {
          "data": {"values": [
            {"label": "No significant difference", "x1": 0, "x2": 1, "xm": 0.51, "y": 148, "ty": 285}
          ]},
          "layer": [
            {"mark": {"type": "rule", "color": "black", "strokeWidth": 2}, "encoding": {"x": {"field": "x1", "type": "quantitative", "title": null}, "x2": {"field": "x2"}, "y": {"field": "y", "type": "quantitative", "title": "Relative expression (log10)"}}},
            {"mark": {"type": "text", "font": "Liberation Sans", "fontSize": 12.5, "color": "#222", "baseline": "alphabetic", "align": "center"}, "encoding": {"x": {"field": "xm", "type": "quantitative", "title": null}, "y": {"field": "ty", "type": "quantitative", "title": "Relative expression (log10)"}, "text": {"field": "label"}}}
          ]
        },
        {
          "data": {"values": [{}]},
          "layer": [
            {"mark": {"type": "text", "font": "Liberation Sans", "fontSize": 14.5, "fontWeight": "bold", "fontStyle": "italic", "align": "right", "baseline": "alphabetic", "color": "black"}, "encoding": {"x": {"datum": 0.144}, "y": {"datum": 7900}, "text": {"value": "mir-bart1-5p"}}},
            {"mark": {"type": "text", "font": "Liberation Sans", "fontSize": 14.5, "fontWeight": "bold", "align": "left", "baseline": "alphabetic", "dx": 4, "color": "black"}, "encoding": {"x": {"datum": 0.144}, "y": {"datum": 7900}, "text": {"value": "in M subgroup"}}},
            {"mark": {"type": "text", "font": "Liberation Serif", "fontSize": 22, "align": "left", "baseline": "alphabetic", "color": "black"}, "encoding": {"x": {"datum": -1.275}, "y": {"datum": 14700}, "text": {"value": "D)"}}}
          ]
        }
      ]
    }
  ]
}
